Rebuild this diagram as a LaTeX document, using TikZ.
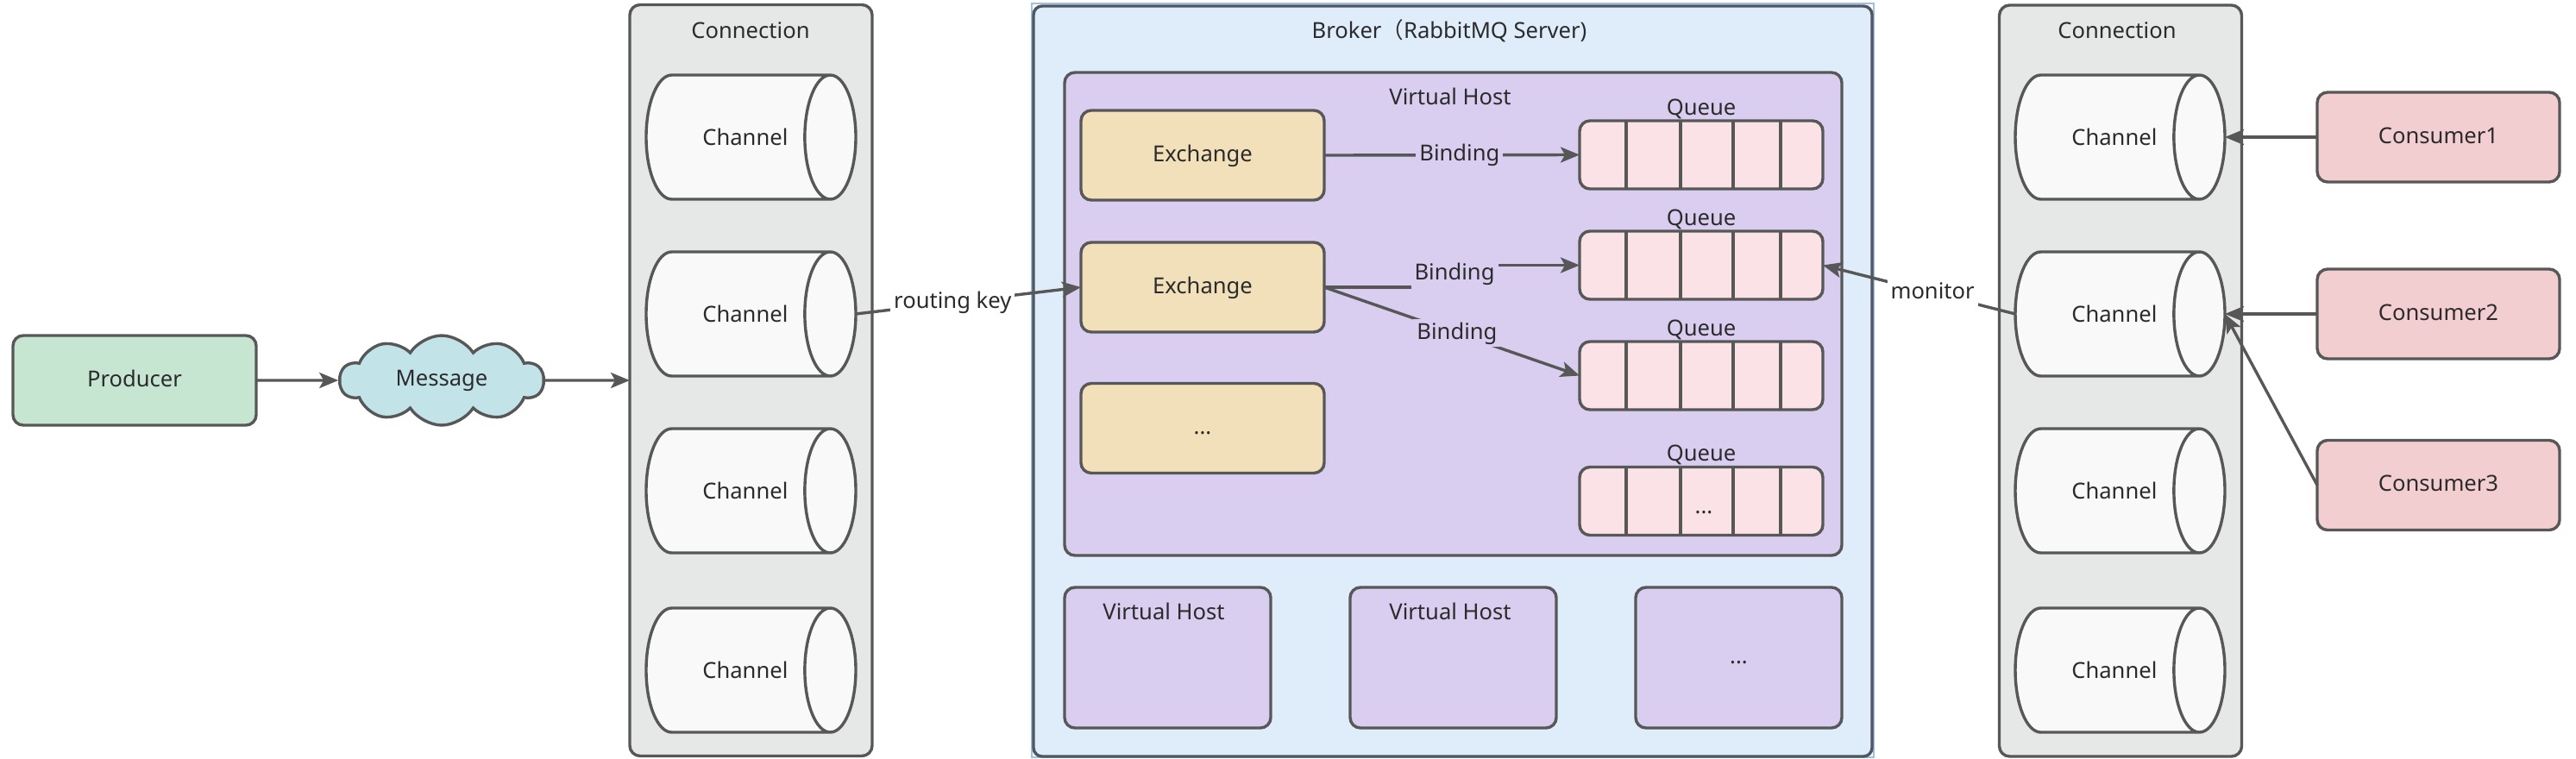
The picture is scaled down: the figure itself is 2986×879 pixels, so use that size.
\documentclass[tikz,border=0pt]{standalone}
\usepackage{fontspec}
\setmainfont{Noto Sans}
\newfontfamily\cjkfont{Noto Sans CJK SC}
\usetikzlibrary{shapes.geometric,shapes.symbols,arrows.meta,calc}
\definecolor{linec}{RGB}{87,87,87}
\definecolor{txt}{RGB}{43,43,43}
\definecolor{prodfill}{RGB}{199,230,209}
\definecolor{cloudfill}{RGB}{194,228,232}
\definecolor{connfill}{RGB}{230,232,231}
\definecolor{chfill}{RGB}{249,249,249}
\definecolor{brokerfill}{RGB}{223,236,249}
\definecolor{brokerline}{RGB}{78,86,96}
\definecolor{selblue}{RGB}{156,192,232}
\definecolor{vhfill}{RGB}{217,206,240}
\definecolor{exfill}{RGB}{242,224,187}
\definecolor{qfill}{RGB}{250,226,230}
\definecolor{consfill}{RGB}{243,206,209}
\begin{document}
\begin{tikzpicture}[x=0.5pt,y=-0.5pt,
  font=\fontsize{12.8pt}{15pt}\selectfont,
  box/.style={draw=linec, line width=1.7pt, rounded corners=6pt, text=txt,
    inner sep=0pt, outer sep=0pt, text height=9.5pt, text depth=2.5pt},
  title/.style={text=txt, inner sep=0pt, text height=9.5pt, text depth=2.5pt},
  lbl/.style={text=txt, inner sep=2pt, text height=9.5pt, text depth=2.5pt},
  chan/.style={cylinder, shape border rotate=0, draw=linec, line width=1.7pt,
    cylinder uses custom fill, cylinder body fill=chfill, cylinder end fill=chfill,
    minimum width=72pt, minimum height=121.5pt, aspect=3, inner sep=0pt,
    outer sep=0pt, text=txt, anchor=east},
  queue/.style={box, fill=qfill, minimum width=141pt, minimum height=39.5pt},
  exch/.style={box, fill=exfill, minimum width=141pt, minimum height=52pt},
  vhsmall/.style={box, fill=vhfill, minimum width=119.5pt, minimum height=81.5pt},
  cons/.style={box, fill=consfill, minimum width=140.5pt, minimum height=52pt},
  conn/.style={box, fill=connfill, minimum width=140.5pt, minimum height=435.5pt},
  divider/.style={draw=linec, line width=1.7pt},
  link/.style={draw=linec, line width=1.7pt, line join=round,
    -{Stealth[length=11pt,width=9pt,inset=2.5pt]}},
  plain/.style={draw=linec, line width=1.7pt}
]
\useasboundingbox (0,0) rectangle (2986,879);

% containers
\node[conn] (connL) at (870.5,441) {};
\node[title] (connLt) at (870,37) {Connection};
\node[conn] (connR) at (2458,441.5) {};
\node[title] (connRt) at (2454,37) {Connection};
\draw[selblue, line width=0.6pt] (1196,4) rectangle (2172,878);
\node[box, draw=brokerline, fill=brokerfill, rounded corners=5pt,
  minimum width=486pt, minimum height=435pt] (broker) at (1684,442) {};
\node[title] (brokert) at (1680,37) {Broker{\cjkfont （}RabbitMQ Server)};
\node[box, fill=vhfill, minimum width=450.5pt, minimum height=280pt] (vh) at (1684.5,364) {};
\node[title] (vht) at (1681,114) {Virtual Host};

% producer side
\node[box, fill=prodfill, minimum width=141pt, minimum height=52pt] (prod) at (156,441) {Producer};
\node[cloud, cloud puffs=10, cloud puff arc=115, cloud ignores aspect, draw=linec,
  fill=cloudfill, line width=1.7pt, minimum width=118pt, minimum height=52pt,
  inner sep=0pt, text=txt] (msg) at (512,441) {Message};

% channels
\node[chan] (chL1) at (992,159) {\hspace{9pt}Channel};
\node[chan] (chL2) at (992,364) {\hspace{9pt}Channel};
\node[chan] (chL3) at (992,569) {\hspace{9pt}Channel};
\node[chan] (chL4) at (992,777) {\hspace{9pt}Channel};
\node[chan] (chR1) at (2579,159) {\hspace{9pt}Channel};
\node[chan] (chR2) at (2579,364) {\hspace{9pt}Channel};
\node[chan] (chR3) at (2579,569) {\hspace{9pt}Channel};
\node[chan] (chR4) at (2579,777) {\hspace{9pt}Channel};

% exchanges
\node[exch] (ex1) at (1394,180) {Exchange};
\node[exch] (ex2) at (1394,333) {Exchange};
\node[exch] (ex3) at (1394,496.5) {...};

% queues
\node[queue] (q1) at (1972,179.5) {};
\node[queue] (q2) at (1972,307.5) {};
\node[queue] (q3) at (1972,435.5) {};
\node[queue] (q4) at (1972,581) {};
\foreach \q in {q1,q2,q3,q4}{
  \foreach \f in {0.191,0.415,0.631,0.826}{
    \draw[divider] ($(\q.north west)!\f!(\q.north east)$) -- ($(\q.south west)!\f!(\q.south east)$);
  }
}
\node[title] (q4d) at (1975,588) {...};
\node[title] (q1t) at (1972,126) {Queue};
\node[title] (q2t) at (1972,254) {Queue};
\node[title] (q3t) at (1972,382) {Queue};
\node[title] (q4t) at (1972,527) {Queue};

% other virtual hosts
\node[vhsmall] (vh2) at (1353.5,762.5) {};
\node[title] (vh2t) at (1349,711) {Virtual Host};
\node[vhsmall] (vh3) at (1684.5,762.5) {};
\node[title] (vh3t) at (1681,711) {Virtual Host};
\node[vhsmall] (vh4) at (2015.5,762.5) {...};

% consumers
\node[cons] (cons1) at (2826.5,159) {Consumer1};
\node[cons] (cons2) at (2826.5,364) {Consumer2};
\node[cons] (cons3) at (2826.5,562.5) {Consumer3};

% connectors
\draw[link] (prod.east) -- (msg.west);
\draw[link] (msg.east) -- (connL.west);
\draw[link] (chL2.east) -- node[lbl, fill=white, pos=0.43] (rk) {routing key} (ex2.west);
\draw[link] (ex1.east) -- node[lbl, fill=vhfill, pos=0.53] (b1) {Binding} (q1.west);
\draw[link] (ex2.east) -- ++(151,0) |- node[lbl, fill=vhfill, inner ysep=4.5pt, pos=0.3] (b2) {Binding} (q2.west);
\draw[link] (ex2.east) -- node[lbl, fill=vhfill, pos=0.52] (b3) {Binding} (q3.west);
\draw[link] (chR2.west) -- node[lbl, fill=white, pos=0.43] (mon) {monitor} (q2.east);
\draw[link] (cons1.west) -- (chR1.east);
\draw[link] (cons2.west) -- (chR2.east);
\draw[link] (cons3.west) -- (chR2.east);
\end{tikzpicture}
\end{document}
